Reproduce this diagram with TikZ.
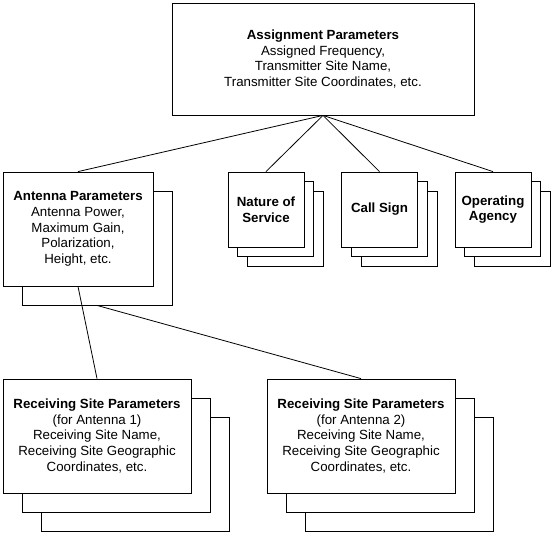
\documentclass[tikz,border=0pt]{standalone}
\usepackage{fontspec}
\setmainfont{Liberation Sans}
\begin{document}
\begin{tikzpicture}[x=1pt,y=-1pt]
\tikzset{
  box/.style={draw=black, fill=white, line width=0.8pt, inner sep=0pt, align=center,
    font=\fontsize{13.3}{15.8}\selectfont},
  smallbox/.style={box, minimum width=76pt, minimum height=75pt},
  antbox/.style={box, minimum width=150pt, minimum height=114pt},
  recbox/.style={box, minimum width=188pt, minimum height=114pt},
  conn/.style={draw=black, line width=0.8pt},
}
\useasboundingbox (0,0) rectangle (558,544);
% top
\node[box, minimum width=302pt, minimum height=112pt] (top) at (323,59)
  {\textbf{Assignment Parameters}\\Assigned Frequency,\\Transmitter Site Name,\\Transmitter Site Coordinates, etc.};
% antenna
\node[antbox] (antback) at (97,248) {};
\node[antbox] (ant) at (78,229)
  {\textbf{Antenna Parameters}\\Antenna Power,\\Maximum Gain,\\Polarization,\\Height, etc.};
% small stacks
\node[smallbox] (natB) at (285.4,228.9) {};
\node[smallbox] (natA) at (275.7,219.2) {};
\node[smallbox] (nat) at (266,209.5) {\textbf{Nature of}\\\textbf{Service}};
\node[smallbox] (callB) at (398.9,228.9) {};
\node[smallbox] (callA) at (389.2,219.2) {};
\node[smallbox] (call) at (379.5,209.5) {\textbf{Call Sign}};
\node[smallbox] (opB) at (512.4,228.9) {};
\node[smallbox] (opA) at (502.7,219.2) {};
\node[smallbox] (op) at (493,209.5) {\textbf{Operating}\\\textbf{Agency}};
% receiving 1
\node[recbox] (recOneB) at (135,474) {};
\node[recbox] (recOneA) at (116,455) {};
\node[recbox] (recOne) at (97,436)
  {\textbf{Receiving Site Parameters}\\(for Antenna 1)\\Receiving Site Name,\\Receiving Site Geographic\\Coordinates, etc.};
% receiving 2
\node[recbox] (recTwoB) at (399,474) {};
\node[recbox] (recTwoA) at (380,455) {};
\node[recbox] (recTwo) at (361,436)
  {\textbf{Receiving Site Parameters}\\(for Antenna 2)\\Receiving Site Name,\\Receiving Site Geographic\\Coordinates, etc.};
% connectors
\draw[conn] (top.south) -- (ant.north);
\draw[conn] (top.south) -- (nat.north);
\draw[conn] (top.south) -- (call.north);
\draw[conn] (top.south) -- (op.north);
\draw[conn] (ant.south) -- (recOne.north);
\draw[conn] (antback.south) -- (recTwo.north);
\end{tikzpicture}
\end{document}
